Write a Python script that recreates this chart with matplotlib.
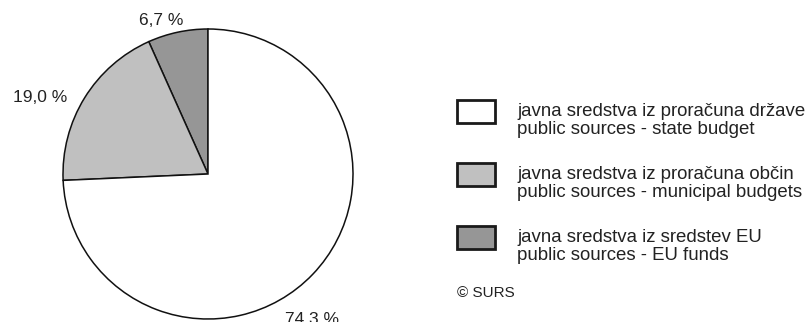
import matplotlib.pyplot as plt
from matplotlib.patches import Rectangle

plt.rcParams["font.family"] = ["Liberation Sans", "DejaVu Sans"]

# -------------------------------
# Data (share of public sources, %)
# -------------------------------
sources_si = [
    "javna sredstva iz proračuna države",
    "javna sredstva iz proračuna občin",
    "javna sredstva iz sredstev EU",
]
sources_en = [
    "public sources - state budget",
    "public sources - municipal budgets",
    "public sources - EU funds",
]
shares = [74.3, 19.0, 6.7]
colors = ["#ffffff", "#c0c0c0", "#969696"]

# label anchor points in pie units (x, y)
label_pos = [(0.72, -1.0), (-1.16, 0.53), (-0.32, 1.06)]

W, H = 806, 322
fig = plt.figure(figsize=(W / 100, H / 100), dpi=100)

# -------------------------------
# Pie (drawn counterclockwise from 12 o'clock: EU, municipal, state)
# -------------------------------
cx, cy, r = 208, 174, 145
ax = fig.add_axes([(cx - r) / W, (H - cy - r) / H, 2 * r / W, 2 * r / H])
ax.pie(
    shares[::-1],
    colors=colors[::-1],
    startangle=90,
    counterclock=True,
    radius=1,
    wedgeprops=dict(edgecolor="#111111", linewidth=1.1),
)
ax.set_xlim(-1, 1)
ax.set_ylim(-1, 1)
ax.set_aspect("equal")
ax.axis("off")

for val, (lx, ly) in zip(shares, label_pos):
    ax.text(lx, ly, f"{val:.1f} %".replace(".", ","), ha="center", va="center",
            fontsize=12.5, color="#222222", clip_on=False)

# -------------------------------
# Legend (pixel coordinates)
# -------------------------------
lg = fig.add_axes([0, 0, 1, 1])
lg.set_xlim(0, W)
lg.set_ylim(H, 0)
lg.axis("off")

box_x, box_y0, step = 457, 100, 63
for i, (si, en, c) in enumerate(zip(sources_si, sources_en, colors)):
    y = box_y0 + i * step
    lg.add_patch(Rectangle((box_x, y), 38, 23, facecolor=c,
                           edgecolor="#1a1a1a", linewidth=2))
    lg.text(517, y + 16, si, ha="left", va="baseline", fontsize=13.4, color="#222222")
    lg.text(517, y + 34, en, ha="left", va="baseline", fontsize=13.4, color="#222222")

lg.text(457, 297, "© SURS", ha="left", va="baseline", fontsize=11, color="#222222")

fig.savefig("out.png", dpi=100)
